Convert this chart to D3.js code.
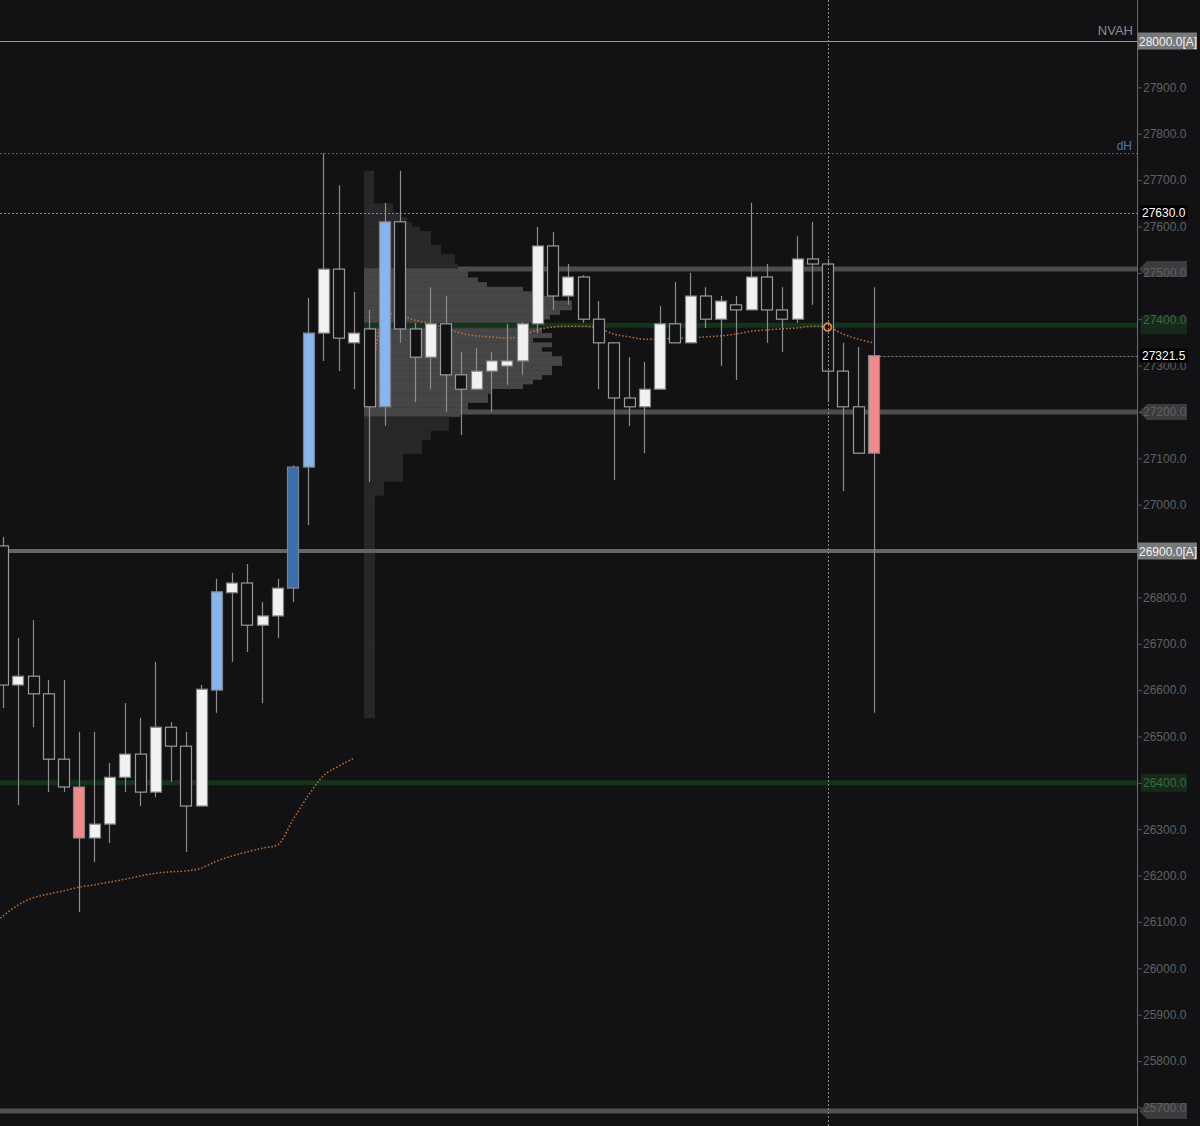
<!DOCTYPE html>
<html>
<head>
<meta charset="utf-8">
<script src="https://cdn.jsdelivr.net/npm/d3@7"></script>
<style>
  html, body { margin: 0; padding: 0; background: #121215; }
  #chart { width: 1200px; height: 1126px; }
</style>
</head>
<body>
<div id="chart"></div>
<script>
// candles, one per bar (oldest first)
var opens  = [26911, 26611, 26630, 26592, 26451, 26391, 26281, 26311, 26412, 26462,
              26380, 26520, 26479, 26350, 26600, 26810, 26831, 26740, 26760, 26820,
              27081, 27370, 27508, 27349, 27379, 27211, 27610, 27379, 27318, 27390,
              27280, 27249, 27288, 27299, 27310, 27390, 27558, 27450, 27491, 27400,
              27349, 27230, 27211, 27249, 27390, 27349, 27450, 27400, 27431, 27420,
              27491, 27420, 27400, 27530, 27519, 27288, 27211, 27321.5];
var highs  = [26930, 26712, 26751, 26622, 26622, 26510, 26510, 26443, 26572, 26540,
              26661, 26531, 26510, 26611, 26840, 26853, 26872, 26790, 26840, 27085,
              27446, 27758, 27689, 27459, 27420, 27651, 27720, 27392, 27469, 27450,
              27329, 27338, 27329, 27390, 27394, 27599, 27588, 27519, 27495, 27439,
              27349, 27318, 27308, 27428, 27480, 27500, 27469, 27450, 27450, 27651,
              27519, 27469, 27579, 27610, 27530, 27349, 27340, 27469];
var lows   = [26561, 26352, 26520, 26380, 26380, 26121, 26229, 26270, 26380, 26350,
              26369, 26402, 26251, 26350, 26551, 26661, 26682, 26572, 26712, 26790,
              26956, 27310, 27288, 27249, 27049, 27170, 27349, 27221, 27249, 27200,
              27150, 27249, 27200, 27258, 27280, 27370, 27420, 27431, 27392, 27249,
              27053, 27170, 27111, 27249, 27349, 27349, 27381, 27299, 27269, 27420,
              27349, 27329, 27392, 27431, 27221, 27029, 27111, 26551];
var closes = [26611, 26630, 26592, 26451, 26391, 26281, 26311, 26412, 26462, 26380,
              26520, 26479, 26350, 26602, 26812, 26831, 26740, 26760, 26820, 27081,
              27370, 27508, 27359, 27370, 27211, 27610, 27379, 27318, 27390, 27280,
              27249, 27288, 27310, 27310, 27390, 27558, 27450, 27491, 27400, 27349,
              27230, 27211, 27249, 27390, 27349, 27450, 27400, 27439, 27420, 27491,
              27420, 27400, 27530, 27519, 27288, 27211, 27111, 27111];
// bar marking: n = normal, u = strong up, u2 = strong up (dark), d = strong down
var marks  = ['n','n','n','n','n','d','n','n','n','n',
              'n','n','n','n','u','n','n','n','n','u2',
              'u','n','n','n','n','u','n','n','n','n',
              'n','n','n','n','n','n','n','n','n','n',
              'n','n','n','n','n','n','n','n','n','n',
              'n','n','n','n','n','n','n','d'];

// two anchored vwap runs
var vwapA = [26108, 26136, 26152, 26160, 26167, 26175, 26180, 26186, 26192, 26199,
             26205, 26208, 26210, 26216, 26231, 26242, 26251, 26259, 26266, 26320,
             26372, 26415, 26436, 26453];
var vwapB = [27211, 27413, 27407, 27398, 27390, 27381, 27370, 27364, 27362, 27359,
             27364, 27377, 27383, 27385, 27385, 27381, 27368, 27362, 27357, 27357,
             27359, 27359, 27362, 27364, 27368, 27374, 27377, 27379, 27381, 27385,
             27383, 27368, 27357, 27349];
var vwapBStart = 24;
var markerBar = 54;

// volume profile, 10 pt rows from the top row down
var vpTop = 27720;
var vpStep = 10;
var vpVol = [10, 10, 10, 10, 10, 10, 10, 29, 29, 36,
             43, 48, 56, 67, 67, 67, 77, 77, 91, 91,
             94, 104, 104, 114, 123, 159, 170, 190, 208, 208,
             196, 186, 178, 178, 178, 188, 169, 188, 178, 188,
             198, 198, 188, 188, 178, 169, 159, 128, 124, 124,
             104, 104, 96, 85, 85, 85, 67, 67, 58, 58,
             58, 39, 39, 39, 39, 39, 39, 20, 20, 20,
             11, 11, 11, 11, 11, 11, 11, 11, 11, 11,
             11, 11, 11, 11, 11, 11, 11, 11, 11, 11,
             11, 11, 11, 11, 11, 11, 11, 11, 11, 11,
             11, 11, 11, 11, 11, 11, 11, 11, 11, 11,
             11, 11, 11, 11, 11, 11, 11, 11];
var vaHigh = 27508;
var vaLow = 27200;

// levels
var nvah = 28000;
var dayHigh = 27758;
var level27630 = 27630;
var lastOpen = 27321.5;
var greyLevels = [27508, 27200, 25692];
var fullGreyLevels = [26900, 25692];
var greenLevels = [27387, 26400];
var tickVals = [27900, 27800, 27700, 27600, 27500, 27400, 27300, 27200, 27100, 27000,
                26800, 26700, 26600, 26500, 26400, 26300, 26200, 26100, 26000,
                25900, 25800, 25700];

var width = 1200, height = 1126;
var plotRight = 1137;
var bg = '#121215';

var svg = d3.select('#chart')
    .append('svg')
    .attr('width', width)
    .attr('height', height)
    .style('font-family', '"Liberation Sans", Arial, sans-serif');

svg.append('rect').attr('width', width).attr('height', height).attr('fill', bg);

var x = d3.scaleLinear().domain([0, 57]).range([2.5, 873.5]);
var y = d3.scaleLinear().domain([28000, 25700]).range([41, 1107.4]);
var vx = d3.scaleLinear().domain([0, 208]).range([364, 572]);

var plot = svg.append('g');

// volume profile
plot.selectAll('rect.vp')
    .data(vpVol)
    .enter()
    .append('rect')
    .attr('class', 'vp')
    .attr('x', vx(0))
    .attr('y', function(d, i){ return y(vpTop - i * vpStep); })
    .attr('width', function(d){ return vx(d) - vx(0); })
    .attr('height', function(d, i){ return y(vpTop - (i + 1) * vpStep) - y(vpTop - i * vpStep) + 0.3; })
    .attr('fill', function(d, i){
        var p = vpTop - i * vpStep;
        return (p <= vaHigh + 5 && p > vaLow - 5) ? '#464648' : '#28282a';
    });

// grey level lines
var vaLines = [vaHigh, vaLow];
plot.selectAll('line.va')
    .data(vaLines)
    .enter()
    .append('line')
    .attr('x1', function(d){ return d === vaHigh ? 458 : 460; })
    .attr('x2', plotRight)
    .attr('y1', function(d){ return y(d); })
    .attr('y2', function(d){ return y(d); })
    .attr('stroke', '#4c4c4e')
    .attr('stroke-width', 5);

plot.selectAll('line.full')
    .data(fullGreyLevels)
    .enter()
    .append('line')
    .attr('x1', 0)
    .attr('x2', plotRight)
    .attr('y1', function(d){ return y(d); })
    .attr('y2', function(d){ return y(d); })
    .attr('stroke', function(d){ return d === 26900 ? '#656567' : '#505052'; })
    .attr('stroke-width', function(d){ return d === 26900 ? 4 : 5; });

// green lines
plot.selectAll('line.green')
    .data(greenLevels)
    .enter()
    .append('line')
    .attr('x1', function(d, i){ return i === 0 ? 364 : 0; })
    .attr('x2', plotRight)
    .attr('y1', function(d){ return y(d); })
    .attr('y2', function(d){ return y(d); })
    .attr('stroke', '#15331b')
    .attr('stroke-width', 5);

// thin / dotted lines
plot.append('line')
    .attr('x1', 0).attr('x2', plotRight)
    .attr('y1', Math.round(y(nvah)) + 0.5).attr('y2', Math.round(y(nvah)) + 0.5)
    .attr('stroke', '#9a9a9c').attr('stroke-width', 1);

plot.append('line')
    .attr('x1', 0).attr('x2', plotRight)
    .attr('y1', Math.round(y(dayHigh)) + 0.5).attr('y2', Math.round(y(dayHigh)) + 0.5)
    .attr('stroke', '#4a5f80').attr('stroke-width', 1).attr('stroke-dasharray', '2,2');

plot.append('line')
    .attr('x1', 0).attr('x2', plotRight)
    .attr('y1', Math.round(y(level27630)) + 0.5).attr('y2', Math.round(y(level27630)) + 0.5)
    .attr('stroke', '#8a8a8c').attr('stroke-width', 1).attr('stroke-dasharray', '2,2');

plot.append('line')
    .attr('x1', x(57) + 6).attr('x2', plotRight)
    .attr('y1', Math.round(y(lastOpen)) + 0.5).attr('y2', Math.round(y(lastOpen)) + 0.5)
    .attr('stroke', '#8a8a8c').attr('stroke-width', 1).attr('stroke-dasharray', '2,2');

// vwap lines
var vline = d3.line()
    .x(function(d){ return x(d.i); })
    .y(function(d){ return y(d.v); })
    .curve(d3.curveMonotoneX);

var vA = vwapA.map(function(v, i){ return {i: i, v: v}; });
var vB = vwapB.map(function(v, i){ return {i: i + vwapBStart, v: v}; });
vA[0].i = -0.15;

plot.selectAll('path.vwap')
    .data([vA, vB])
    .enter()
    .append('path')
    .attr('d', vline)
    .attr('fill', 'none')
    .attr('stroke', '#c4722f')
    .attr('stroke-width', 1.5)
    .attr('stroke-dasharray', '1.5,2');

// candles
var bars = opens.map(function(o, i){
    return {i: i, o: o, h: highs[i], l: lows[i], c: closes[i], m: marks[i]};
});

var bodyW = 11;

plot.selectAll('line.wick')
    .data(bars)
    .enter()
    .append('line')
    .attr('x1', function(d){ return Math.round(x(d.i)) + 0.5; })
    .attr('x2', function(d){ return Math.round(x(d.i)) + 0.5; })
    .attr('y1', function(d){ return y(d.h); })
    .attr('y2', function(d){ return y(d.l); })
    .attr('stroke', '#8c8c8e')
    .attr('stroke-width', 1.2);

function bodyFill(d) {
    if (d.m === 'u') return '#86b5ef';
    if (d.m === 'u2') return '#3b6eae';
    if (d.m === 'd') return '#f28a8a';
    return d.c >= d.o ? '#f2f2f2' : bg;
}

plot.selectAll('rect.body')
    .data(bars)
    .enter()
    .append('rect')
    .attr('x', function(d){ return Math.round(x(d.i) - bodyW / 2) + 0.5; })
    .attr('y', function(d){ return y(Math.max(d.o, d.c)); })
    .attr('width', bodyW)
    .attr('height', function(d){ return Math.max(2, y(Math.min(d.o, d.c)) - y(Math.max(d.o, d.c))); })
    .attr('fill', bodyFill)
    .attr('stroke', function(d){ return d.m === 'n' && d.c < d.o ? '#9a9a9c' : '#828284'; })
    .attr('stroke-width', 1.2);

// crosshair
plot.append('line')
    .attr('x1', Math.round(x(markerBar)) + 0.5).attr('x2', Math.round(x(markerBar)) + 0.5)
    .attr('y1', 0).attr('y2', height)
    .attr('stroke', '#8a8a8c').attr('stroke-width', 1).attr('stroke-dasharray', '2,2');

// marker on vwap
plot.append('circle')
    .attr('cx', x(markerBar))
    .attr('cy', y(vwapB[markerBar - vwapBStart]))
    .attr('r', 3.8)
    .attr('fill', 'none')
    .attr('stroke', '#e8862e')
    .attr('stroke-width', 1.8);

// price axis
svg.append('line')
    .attr('x1', plotRight + 0.5).attr('x2', plotRight + 0.5)
    .attr('y1', 0).attr('y2', height)
    .attr('stroke', '#6a6a6c').attr('stroke-width', 1);

// tags sitting on the level lines (under the tick text)
svg.selectAll('path.tag')
    .data(greyLevels)
    .enter()
    .append('path')
    .attr('d', function(d){
        var c = y(d);
        return 'M' + (plotRight + 2) + ',' + c + 'L' + (plotRight + 10) + ',' + (c - 8) +
               'L1187,' + (c - 8) + 'L1187,' + (c + 8) + 'L' + (plotRight + 10) + ',' + (c + 8) + 'Z';
    })
    .attr('fill', '#3c3c3e');

svg.selectAll('rect.gtag')
    .data(greenLevels)
    .enter()
    .append('rect')
    .attr('x', plotRight + 4)
    .attr('y', function(d){ return y(d) - 9; })
    .attr('width', 46)
    .attr('height', 18)
    .attr('fill', '#172a19');

var axis = d3.axisRight(y)
    .tickValues(tickVals)
    .tickFormat(d3.format('.1f'))
    .tickSize(5)
    .tickPadding(1);

var ax = svg.append('g')
    .attr('transform', 'translate(' + plotRight + ',0)')
    .call(axis);
ax.select('.domain').remove();
ax.selectAll('.tick line').attr('stroke', '#555557');
ax.selectAll('.tick text')
    .attr('fill', function(d){ return (d === 27400 || d === 26400) ? '#3b6a40' : '#606062'; })
    .style('font-size', '12px')
    .style('font-family', '"Liberation Sans", Arial, sans-serif');

// boxed price labels
var aBoxes = [nvah, 26900];
svg.selectAll('g.abox')
    .data(aBoxes)
    .enter()
    .append('g')
    .each(function(d){
        var g = d3.select(this);
        g.append('rect')
            .attr('x', plotRight + 1).attr('y', y(d) - 8.5)
            .attr('width', 59).attr('height', 17)
            .attr('fill', '#78787a');
        g.append('text')
            .attr('x', plotRight + 2).attr('y', y(d) + 4.5)
            .attr('fill', '#f2f2f2')
            .style('font-size', '12px')
            .text(d3.format('.1f')(d) + '[A]');
    });

var blackBoxes = [level27630, lastOpen];
svg.selectAll('g.bbox')
    .data(blackBoxes)
    .enter()
    .append('g')
    .each(function(d){
        var g = d3.select(this);
        g.append('rect')
            .attr('x', plotRight + 3).attr('y', y(d) - 7)
            .attr('width', 48).attr('height', 14)
            .attr('fill', '#000');
        g.append('text')
            .attr('x', plotRight + 5).attr('y', y(d) + 4.5)
            .attr('fill', '#ffffff')
            .style('font-size', '12px')
            .text(d3.format('.1f')(d));
    });

// level names
svg.append('text')
    .attr('x', 1133).attr('y', y(nvah) - 6)
    .attr('text-anchor', 'end')
    .attr('fill', '#8c8c8e')
    .style('font-size', '13px')
    .text('NVAH');

svg.append('text')
    .attr('x', 1132).attr('y', y(dayHigh) - 3)
    .attr('text-anchor', 'end')
    .attr('fill', '#4b78b8')
    .style('font-size', '12px')
    .text('dH');
</script>
</body>
</html>
